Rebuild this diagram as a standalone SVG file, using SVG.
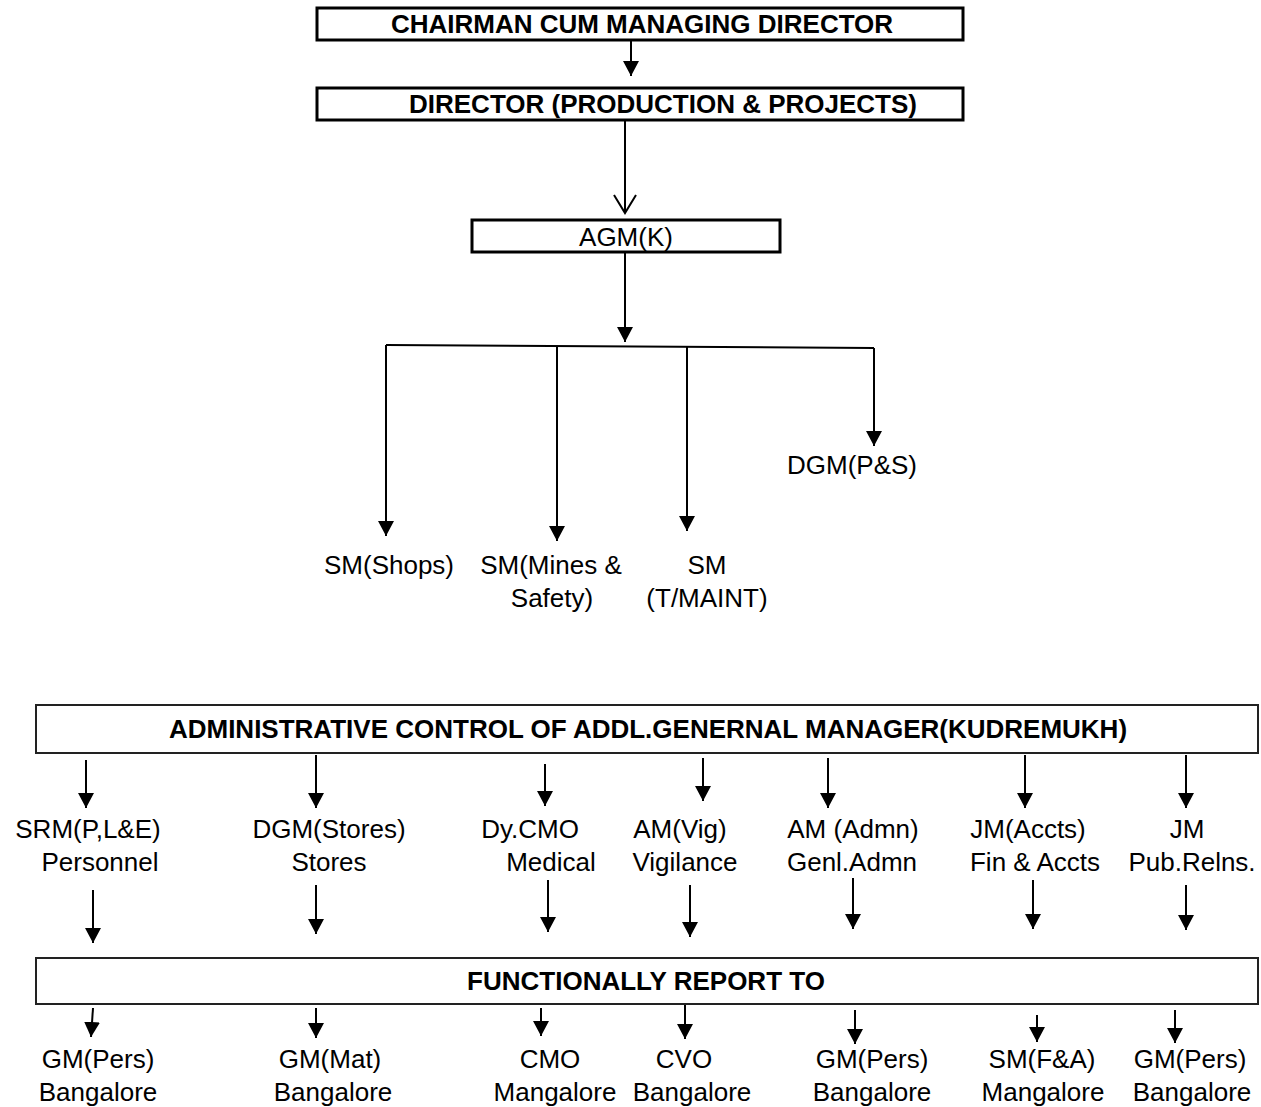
<svg xmlns="http://www.w3.org/2000/svg" width="1261" height="1107" viewBox="0 0 1261 1107">
<style>
text{font-family:"Liberation Sans",Arial,sans-serif;font-size:26px;fill:#000;text-anchor:middle}
.b{font-weight:bold}
.box{fill:#fff;stroke:#000;stroke-width:3}
.box2{fill:#fff;stroke:#222;stroke-width:2}
.c line,.c path{stroke:#000;stroke-width:2;fill:none}
</style>
<defs>
<marker id="ah" markerUnits="userSpaceOnUse" markerWidth="16" markerHeight="16" viewBox="0 0 16 16" refX="15" refY="8" orient="auto">
<path d="M0,0 L15,8 L0,16 Z" fill="#000"/>
</marker>
</defs>
<rect width="1261" height="1107" fill="#fff"/>
<g class="c" id="connectors">
<line x1="631" y1="40" x2="631" y2="76" marker-end="url(#ah)"/>
<line x1="625" y1="120" x2="625" y2="213"/>
<path d="M614,195 L625,213 L636,195"/>
<line x1="625" y1="252" x2="625" y2="342" marker-end="url(#ah)"/>
<path d="M386,345 L874,348"/>
<line x1="386" y1="345" x2="386" y2="536" marker-end="url(#ah)"/>
<line x1="557" y1="346" x2="557" y2="541" marker-end="url(#ah)"/>
<line x1="687" y1="347" x2="687" y2="531" marker-end="url(#ah)"/>
<line x1="874" y1="348" x2="874" y2="446" marker-end="url(#ah)"/>
<line x1="86" y1="760" x2="86" y2="808" marker-end="url(#ah)"/>
<line x1="316" y1="755" x2="316" y2="808" marker-end="url(#ah)"/>
<line x1="545" y1="764" x2="545" y2="806" marker-end="url(#ah)"/>
<line x1="703" y1="758" x2="703" y2="801" marker-end="url(#ah)"/>
<line x1="828" y1="758" x2="828" y2="808" marker-end="url(#ah)"/>
<line x1="1025" y1="755" x2="1025" y2="808" marker-end="url(#ah)"/>
<line x1="1186" y1="755" x2="1186" y2="808" marker-end="url(#ah)"/>
<line x1="93" y1="890" x2="93" y2="943" marker-end="url(#ah)"/>
<line x1="316" y1="885" x2="316" y2="934" marker-end="url(#ah)"/>
<line x1="548" y1="880" x2="548" y2="932" marker-end="url(#ah)"/>
<line x1="690" y1="885" x2="690" y2="937" marker-end="url(#ah)"/>
<line x1="853" y1="878" x2="853" y2="929" marker-end="url(#ah)"/>
<line x1="1033" y1="880" x2="1033" y2="929" marker-end="url(#ah)"/>
<line x1="1186" y1="885" x2="1186" y2="930" marker-end="url(#ah)"/>
<line x1="93" y1="1008" x2="91" y2="1037" marker-end="url(#ah)"/>
<line x1="316" y1="1008" x2="316" y2="1038" marker-end="url(#ah)"/>
<line x1="541" y1="1008" x2="541" y2="1036" marker-end="url(#ah)"/>
<line x1="685" y1="1005" x2="685" y2="1039" marker-end="url(#ah)"/>
<line x1="855" y1="1010" x2="855" y2="1044" marker-end="url(#ah)"/>
<line x1="1037" y1="1015" x2="1037" y2="1042" marker-end="url(#ah)"/>
<line x1="1175" y1="1010" x2="1175" y2="1043" marker-end="url(#ah)"/>
</g>
<g id="cmd"><rect class="box" x="317" y="8" width="646" height="32"/><text class="b" x="642" y="33">CHAIRMAN CUM MANAGING DIRECTOR</text></g>
<g id="dir"><rect class="box" x="317" y="88" width="646" height="32"/><text class="b" x="663" y="113">DIRECTOR (PRODUCTION &amp; PROJECTS)</text></g>
<g id="agm"><rect class="box" x="472" y="220" width="308" height="32"/><text x="626" y="246">AGM(K)</text></g>
<g id="smshops"><text x="389" y="574">SM(Shops)</text></g>
<g id="smmines"><text x="551" y="574">SM(Mines &amp;</text><text x="552" y="607">Safety)</text></g>
<g id="smtmaint"><text x="707" y="574">SM</text><text x="707" y="607">(T/MAINT)</text></g>
<g id="dgmps"><text x="852" y="474">DGM(P&amp;S)</text></g>
<g id="admin"><rect class="box2" x="36" y="705" width="1222" height="48"/><text class="b" x="648" y="738">ADMINISTRATIVE CONTROL OF ADDL.GENERNAL MANAGER(KUDREMUKH)</text></g>
<g id="srm"><text x="88" y="838">SRM(P,L&amp;E)</text><text x="100" y="871">Personnel</text></g>
<g id="dgmstores"><text x="329" y="838">DGM(Stores)</text><text x="329" y="871">Stores</text></g>
<g id="dycmo"><text x="530" y="838">Dy.CMO</text><text x="551" y="871">Medical</text></g>
<g id="amvig"><text x="680" y="838">AM(Vig)</text><text x="685" y="871">Vigilance</text></g>
<g id="amadmn"><text x="853" y="838">AM (Admn)</text><text x="852" y="871">Genl.Admn</text></g>
<g id="jmaccts"><text x="1028" y="838">JM(Accts)</text><text x="1035" y="871">Fin &amp; Accts</text></g>
<g id="jmpr"><text x="1187" y="838">JM</text><text x="1192" y="871">Pub.Relns.</text></g>
<g id="func"><rect class="box2" x="36" y="958" width="1222" height="46"/><text class="b" x="646" y="990">FUNCTIONALLY REPORT TO</text></g>
<g id="gmpers1"><text x="98" y="1068">GM(Pers)</text><text x="98" y="1101">Bangalore</text></g>
<g id="gmmat"><text x="330" y="1068">GM(Mat)</text><text x="333" y="1101">Bangalore</text></g>
<g id="cmo"><text x="550" y="1068">CMO</text><text x="555" y="1101">Mangalore</text></g>
<g id="cvo"><text x="684" y="1068">CVO</text><text x="692" y="1101">Bangalore</text></g>
<g id="gmpers2"><text x="872" y="1068">GM(Pers)</text><text x="872" y="1101">Bangalore</text></g>
<g id="smfa"><text x="1042" y="1068">SM(F&amp;A)</text><text x="1043" y="1101">Mangalore</text></g>
<g id="gmpers3"><text x="1190" y="1068">GM(Pers)</text><text x="1192" y="1101">Bangalore</text></g>
</svg>
